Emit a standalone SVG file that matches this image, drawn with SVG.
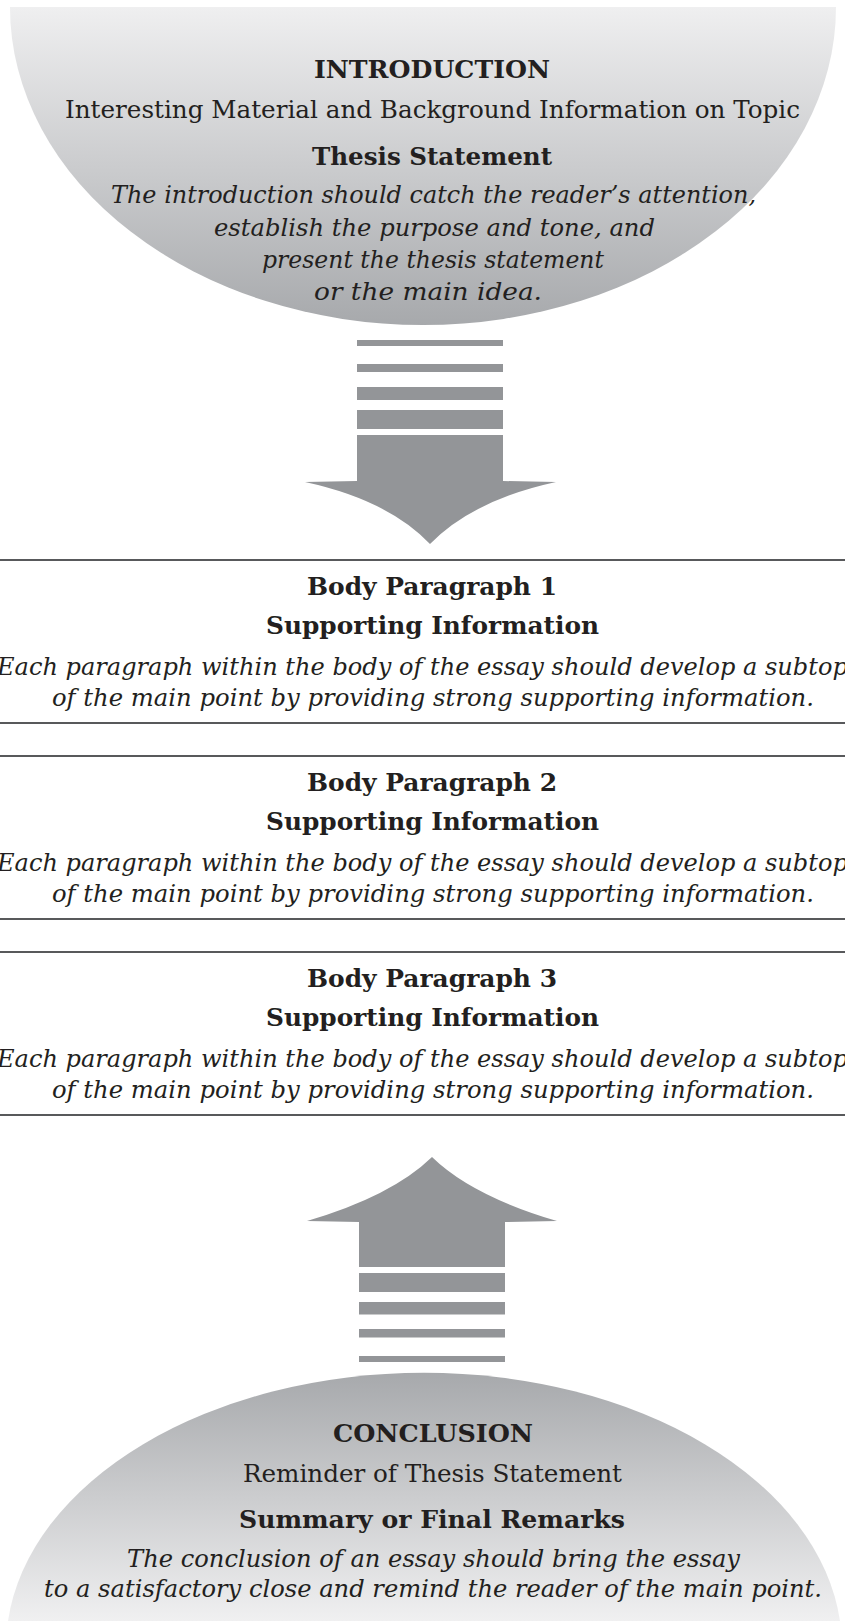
<svg xmlns="http://www.w3.org/2000/svg" width="845" height="1621" viewBox="0 0 845 1621">
<style>
  text { font-family: "DejaVu Serif", "Liberation Serif", serif; fill: #231f20; text-anchor: middle; }
  .b { font-weight: bold; }
  .i { font-style: italic; }
  .s24 { font-size: 24px; }
  .s25 { font-size: 25px; }
  .arrow { fill: #939598; }
  .box { fill: none; stroke: #58595b; stroke-width: 2; }
</style>
<defs>
  <linearGradient id="gIntro" x1="0" y1="0" x2="0" y2="1">
    <stop offset="0" stop-color="#efeff0"/>
    <stop offset="1" stop-color="#a7a9ac"/>
  </linearGradient>
  <linearGradient id="gConc" x1="0" y1="0" x2="0" y2="1">
    <stop offset="0" stop-color="#a7a9ac"/>
    <stop offset="1" stop-color="#f0f0f1"/>
  </linearGradient>
</defs>
<rect width="845" height="1621" fill="#ffffff"/>

<g id="introduction">
  <path d="M10,7 L836,7 A413,318 0 0 1 10,7 Z" fill="url(#gIntro)"/>
  <text class="b s24" x="432" y="78" textLength="236" lengthAdjust="spacingAndGlyphs">INTRODUCTION</text>
  <text class="s24" x="432.5" y="118" textLength="735" lengthAdjust="spacingAndGlyphs">Interesting Material and Background Information on Topic</text>
  <text class="b s24" x="432" y="165" textLength="240" lengthAdjust="spacingAndGlyphs">Thesis Statement</text>
  <text class="i s24" x="433.5" y="203" textLength="645" lengthAdjust="spacingAndGlyphs">The introduction should catch the reader’s attention,</text>
  <text class="i s24" x="434.5" y="236" textLength="441" lengthAdjust="spacingAndGlyphs">establish the purpose and tone, and</text>
  <text class="i s24" x="433" y="268" textLength="342" lengthAdjust="spacingAndGlyphs">present the thesis statement</text>
  <text class="i s24" x="428" y="300" textLength="228" lengthAdjust="spacingAndGlyphs">or the main idea.</text>
</g>

<g id="connectors">
  <g id="arrow-down" class="arrow">
    <rect x="357" y="340" width="146" height="6"/>
    <rect x="357" y="364" width="146" height="8"/>
    <rect x="357" y="387" width="146" height="13"/>
    <rect x="357" y="410" width="146" height="19"/>
    <path d="M305,482 L357,481 L357,435 L503,435 L503,481 L556,482 Q473,500 430,544 Q388,500 305,482 Z"/>
  </g>
  <g id="arrow-up" class="arrow">
    <path d="M307,1221 Q392,1196 432,1157 Q472,1196 557,1221 L505,1222 L505,1267 L359,1267 L359,1222 Z"/>
    <rect x="359" y="1273" width="146" height="19"/>
    <rect x="359" y="1302" width="146" height="12.5"/>
    <rect x="359" y="1329" width="146" height="8.5"/>
    <rect x="359" y="1356" width="146" height="6"/>
  </g>
</g>

<g id="body1">
  <rect class="box" x="-5" y="560" width="855" height="163"/>
  <text class="b s25" x="432" y="595" textLength="250" lengthAdjust="spacingAndGlyphs">Body Paragraph 1</text>
  <text class="b s25" x="432.5" y="634" textLength="333" lengthAdjust="spacingAndGlyphs">Supporting Information</text>
  <text class="i s25" x="433" y="675" textLength="872" lengthAdjust="spacingAndGlyphs">Each paragraph within the body of the essay should develop a subtopic</text>
  <text class="i s25" x="433" y="706" textLength="762" lengthAdjust="spacingAndGlyphs">of the main point by providing strong supporting information.</text>
</g>

<g id="body2">
  <rect class="box" x="-5" y="756" width="855" height="163"/>
  <text class="b s25" x="432" y="791" textLength="250" lengthAdjust="spacingAndGlyphs">Body Paragraph 2</text>
  <text class="b s25" x="432.5" y="830" textLength="333" lengthAdjust="spacingAndGlyphs">Supporting Information</text>
  <text class="i s25" x="433" y="871" textLength="872" lengthAdjust="spacingAndGlyphs">Each paragraph within the body of the essay should develop a subtopic</text>
  <text class="i s25" x="433" y="902" textLength="762" lengthAdjust="spacingAndGlyphs">of the main point by providing strong supporting information.</text>
</g>

<g id="body3">
  <rect class="box" x="-5" y="952" width="855" height="163"/>
  <text class="b s25" x="432" y="987" textLength="250" lengthAdjust="spacingAndGlyphs">Body Paragraph 3</text>
  <text class="b s25" x="432.5" y="1026" textLength="333" lengthAdjust="spacingAndGlyphs">Supporting Information</text>
  <text class="i s25" x="433" y="1067" textLength="872" lengthAdjust="spacingAndGlyphs">Each paragraph within the body of the essay should develop a subtopic</text>
  <text class="i s25" x="433" y="1098" textLength="762" lengthAdjust="spacingAndGlyphs">of the main point by providing strong supporting information.</text>
</g>

<g id="conclusion">
  <path d="M8,1621 A418,275 0 0 1 840,1621 Z" fill="url(#gConc)"/>
  <text class="b s24" x="433" y="1442" textLength="200" lengthAdjust="spacingAndGlyphs">CONCLUSION</text>
  <text class="s24" x="432.5" y="1482" textLength="379" lengthAdjust="spacingAndGlyphs">Reminder of Thesis Statement</text>
  <text class="b s24" x="432" y="1528" textLength="386" lengthAdjust="spacingAndGlyphs">Summary or Final Remarks</text>
  <text class="i s24" x="433.5" y="1567" textLength="613" lengthAdjust="spacingAndGlyphs">The conclusion of an essay should bring the essay</text>
  <text class="i s24" x="433" y="1597" textLength="778" lengthAdjust="spacingAndGlyphs">to a satisfactory close and remind the reader of the main point.</text>
</g>
</svg>
